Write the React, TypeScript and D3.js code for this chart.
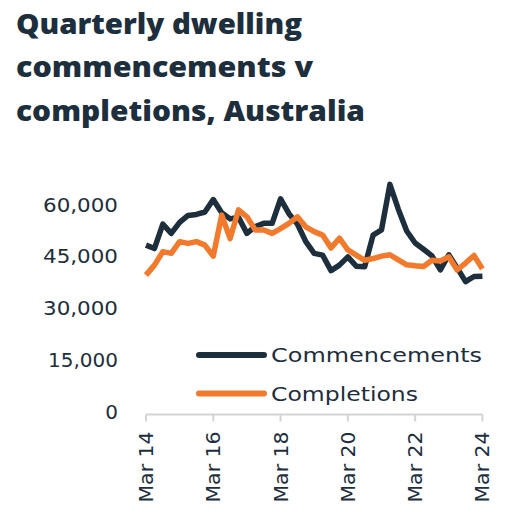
import React from "react";
import * as d3 from "d3";

const quarters: string[] = d3.range(41).map((i) => {
  const months = ["Mar", "Jun", "Sep", "Dec"];
  const y = 14 + Math.floor(i / 4);
  return `${months[i % 4]} ${y}`;
});

const commencements: number[] = [
  49.1, 48.1, 55.2, 52.5, 55.7, 57.7, 58.0, 58.7, 62.3, 58.5, 56.7, 57.2, 52.5, 54.5,
  55.4, 55.4, 62.5, 58.2, 55.2, 50.1, 46.7, 46.2, 41.7, 43.3, 45.7, 43.0, 42.8, 52.0,
  53.5, 66.7, 59.5, 53.2, 49.7, 47.9, 46.0, 41.9, 46.3, 42.5, 38.5, 40.0, 40.1,
].map((v) => v * 1000);

const completions: number[] = [
  40.4, 43.3, 47.2, 46.7, 50.1, 49.6, 50.1, 49.1, 45.9, 57.8, 51.0, 59.3, 57.3, 53.5,
  53.5, 52.5, 53.9, 55.4, 57.3, 54.4, 53.0, 52.0, 48.3, 51.1, 47.7, 46.2, 44.7, 45.2,
  45.9, 46.3, 44.8, 43.4, 43.1, 42.9, 44.7, 44.5, 45.7, 41.9, 43.9, 46.1, 42.2,
].map((v) => v * 1000);

const yTicks: number[] = [0, 15000, 30000, 45000, 60000];
const xTickLabels: string[] = ["Mar 14", "Mar 16", "Mar 18", "Mar 20", "Mar 22", "Mar 24"];
const titleLines: string[] = ["Quarterly dwelling", "commencements v", "completions, Australia"];
const seriesNames: string[] = ["Commencements", "Completions"];

const DARK = "#1d2e3d";
const ORANGE = "#f27a2d";
const TITLE_FONT = "'Open Sans', 'Noto Sans', sans-serif";
const FONT = "'DejaVu Sans', 'Open Sans', sans-serif";

export default function App() {
  const W = 525;
  const H = 526;
  const x = d3.scalePoint<string>().domain(quarters).range([146, 482.4]);
  const y = d3.scaleLinear().domain([0, 60000]).range([414.5, 207.5]);
  const line = d3
    .line<number>()
    .x((_, i) => x(quarters[i]) as number)
    .y((d) => y(d))
    .curve(d3.curveLinear);
  const fmt = d3.format(",");
  const titleWidths = [286, 297, 349];
  const yLabelWidth = (t: number) => (t === 0 ? undefined : t === 15000 ? 70 : 75);
  const legendWidths = [211, 147];
  const series = [
    { name: seriesNames[0], data: commencements, color: DARK },
    { name: seriesNames[1], data: completions, color: ORANGE },
  ];
  const axisY = y(0);
  return (
    <svg
      width={W}
      height={H}
      style={{ position: "absolute", left: 0, top: 0, background: "#fff" }}
    >
      {titleLines.map((t, i) => (
        <text
          key={t}
          x={16}
          y={33.5 + i * 43.7}
          fontFamily={TITLE_FONT}
          fontWeight={800}
          fontSize={29}
          fill={DARK}
          textLength={titleWidths[i]}
          lengthAdjust="spacingAndGlyphs"
        >
          {t}
        </text>
      ))}
      {yTicks.map((t) => (
        <text
          key={t}
          x={118}
          y={y(t) - 3}
          dy="0.35em"
          textAnchor="end"
          fontFamily={FONT}
          fontSize={20}
          fill={DARK}
          textLength={yLabelWidth(t)}
          lengthAdjust="spacingAndGlyphs"
        >
          {fmt(t)}
        </text>
      ))}
      <line x1={146} x2={482.4} y1={axisY} y2={axisY} stroke="#d4d4d4" strokeWidth={2} />
      {xTickLabels.map((lab) => {
        const xv = x(lab) as number;
        return (
          <g key={lab}>
            <line x1={xv} x2={xv} y1={axisY} y2={axisY + 7} stroke="#d4d4d4" strokeWidth={2} />
            <text
              transform={`translate(${xv},${axisY + 17}) rotate(-90)`}
              dy="0.35em"
              textAnchor="end"
              fontFamily={FONT}
              fontSize={20}
              fill={DARK}
              textLength={71}
              lengthAdjust="spacingAndGlyphs"
            >
              {lab}
            </text>
          </g>
        );
      })}
      {series.map((s) => (
        <path
          key={s.name}
          d={line(s.data) || ""}
          fill="none"
          stroke={s.color}
          strokeWidth={5.5}
          strokeLinejoin="round"
          strokeLinecap="butt"
        />
      ))}
      {series.map((s, i) => (
        <g key={"lg" + s.name} transform={`translate(0,${355 + i * 38.5})`}>
          <line x1={199} x2={264} y1={0} y2={0} stroke={s.color} strokeWidth={6} strokeLinecap="round" />
          <text
            x={271}
            y={0}
            dy="0.35em"
            fontFamily={FONT}
            fontSize={20}
            fill={DARK}
            textLength={legendWidths[i]}
            lengthAdjust="spacingAndGlyphs"
          >
            {s.name}
          </text>
        </g>
      ))}
    </svg>
  );
}
